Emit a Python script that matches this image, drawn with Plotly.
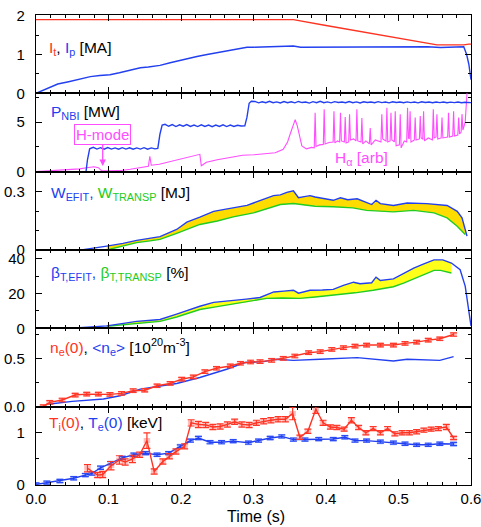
import plotly.graph_objects as go
from plotly.subplots import make_subplots

# ---------------- data ----------------
# Panel 1: currents [MA]
it_t = [0.000, 0.100, 0.200, 0.300, 0.355, 0.400, 0.450, 0.500, 0.553, 0.575, 0.590, 0.597, 0.600]
it_v = [1.90, 1.90, 1.90, 1.90, 1.90, 1.75, 1.59, 1.42, 1.25, 1.25, 1.25, 1.27, 1.27]
ip_t = [0.000, 0.010, 0.019, 0.030, 0.045, 0.061, 0.075, 0.088, 0.102, 0.115, 0.130, 0.144, 0.155, 0.171,
        0.185, 0.200, 0.208, 0.222, 0.236, 0.250, 0.262, 0.272, 0.283, 0.291, 0.300, 0.320, 0.340, 0.355,
        0.365, 0.380, 0.400, 0.420, 0.440, 0.460, 0.480, 0.500, 0.520, 0.540, 0.558, 0.575, 0.590, 0.594,
        0.597, 0.600]
ip_v = [0.00, 0.08, 0.17, 0.24, 0.30, 0.38, 0.43, 0.46, 0.48, 0.53, 0.60, 0.66, 0.68, 0.72,
        0.79, 0.86, 0.89, 0.95, 1.00, 1.05, 1.09, 1.11, 1.15, 1.19, 1.19, 1.20, 1.21, 1.22,
        1.19, 1.19, 1.20, 1.20, 1.19, 1.20, 1.20, 1.20, 1.20, 1.20, 1.18, 1.19, 1.20, 1.00,
        0.75, 0.35]

# Panel 2: NBI power [MW] and H-alpha [arb]
pnbi_t = [0.000, 0.069, 0.071, 0.074,
          0.079, 0.084, 0.089, 0.094, 0.099, 0.104, 0.109, 0.114, 0.119, 0.124,
          0.129, 0.134, 0.139, 0.144, 0.149, 0.154, 0.159, 0.164,
          0.168, 0.171, 0.174,
          0.178, 0.183, 0.188, 0.193, 0.198, 0.203, 0.208, 0.213, 0.218, 0.223, 0.228,
          0.233, 0.238, 0.243, 0.248, 0.253, 0.258, 0.263, 0.268, 0.273, 0.278, 0.283,
          0.288, 0.291, 0.294, 0.297,
          0.302, 0.307, 0.312, 0.317, 0.322, 0.327, 0.332, 0.337, 0.342, 0.347,
          0.352, 0.357, 0.362, 0.367, 0.372, 0.377, 0.382, 0.387, 0.392, 0.397,
          0.402, 0.407, 0.412, 0.417, 0.422, 0.427, 0.432, 0.437, 0.442, 0.447,
          0.452, 0.457, 0.462, 0.467, 0.472, 0.477, 0.482, 0.487, 0.492, 0.497,
          0.502, 0.507, 0.512, 0.517, 0.522, 0.527, 0.532, 0.537, 0.542, 0.547,
          0.552, 0.557, 0.562, 0.567, 0.572, 0.577, 0.582, 0.587, 0.592, 0.600]
pnbi_v = [0.00, 0.00, 1.20, 2.30,
          2.45, 2.28, 2.42, 2.26, 2.43, 2.28, 2.40, 2.27, 2.42, 2.28,
          2.41, 2.26, 2.40, 2.28, 2.42, 2.27, 2.40, 2.30,
          2.35, 3.80, 4.70,
          4.78, 4.58, 4.75, 4.55, 4.72, 4.58, 4.75, 4.56, 4.70, 4.55, 4.72,
          4.56, 4.70, 4.54, 4.70, 4.56, 4.72, 4.55, 4.70, 4.56, 4.68, 4.60,
          4.62, 5.50, 6.90, 7.10,
          7.08, 6.94, 7.05, 6.95, 7.10, 6.96, 7.04, 6.93, 7.07, 6.96,
          7.05, 6.94, 7.08, 6.97, 7.03, 6.92, 7.06, 6.95, 7.09, 6.96,
          7.04, 6.94, 7.06, 6.97, 7.02, 6.95, 7.07, 6.96, 7.04, 6.93,
          7.05, 6.97, 7.03, 6.95, 7.06, 6.96, 7.02, 6.94, 7.05, 6.97,
          7.03, 6.95, 7.04, 6.96, 7.02, 6.94, 7.05, 6.97, 7.03, 6.95,
          7.02, 6.96, 7.03, 6.95, 7.01, 6.96, 7.02, 6.95, 7.00, 6.96]
ha_t = [0.000, 0.020, 0.040, 0.060, 0.070, 0.080, 0.086, 0.090, 0.100, 0.115,
        0.130, 0.140, 0.150, 0.155, 0.157, 0.159, 0.170, 0.185, 0.199, 0.212,
        0.226, 0.228, 0.235, 0.250, 0.268, 0.285, 0.300, 0.314, 0.330, 0.341,
        0.347, 0.3506, 0.3575, 0.3605, 0.3667, 0.373, 0.380, 0.3838, 0.385, 0.3862,
        0.391, 0.3963, 0.3975, 0.3987, 0.404, 0.4098, 0.411, 0.4122, 0.416, 0.4188,
        0.420, 0.4212, 0.4253, 0.4265, 0.4277, 0.4313, 0.4325, 0.4337, 0.438, 0.4414,
        0.4426, 0.4438, 0.4483, 0.4495, 0.4507, 0.455, 0.4598, 0.461, 0.4622, 0.468,
        0.4758, 0.477, 0.4782, 0.4828, 0.484, 0.4852, 0.4884, 0.4896, 0.4908, 0.4943,
        0.4955, 0.4967, 0.5012, 0.5024, 0.5036, 0.508, 0.5113, 0.5125, 0.5137, 0.5148,
        0.516, 0.5172, 0.5218, 0.523, 0.5242, 0.5288, 0.530, 0.5312, 0.5334, 0.5346,
        0.5358, 0.541, 0.5468, 0.548, 0.5492, 0.5518, 0.553, 0.5542, 0.5588, 0.560,
        0.5612, 0.5678, 0.569, 0.5702, 0.5748, 0.576, 0.5772, 0.5818, 0.583, 0.5842,
        0.5864, 0.5876, 0.5888, 0.592, 0.595]
ha_v = [0.00, 0.08, 0.15, 0.28, 0.40, 0.50, 0.40, 0.12, 0.08, 0.10,
        0.25, 0.35, 0.50, 0.55, 1.55, 0.65, 0.75, 1.00, 1.25, 1.45,
        1.75, 0.60, 0.95, 1.20, 1.45, 1.65, 1.70, 1.80, 1.90, 2.25,
        3.00, 3.80, 5.25, 4.60, 2.60, 2.30, 2.45, 2.40, 5.95, 2.55,
        2.70, 2.75, 6.30, 2.80, 2.95, 3.00, 6.10, 2.90, 3.10, 3.00,
        5.95, 3.10, 3.00, 5.50, 2.90, 3.00, 5.80, 3.20, 3.30, 3.10,
        6.30, 3.10, 3.00, 5.40, 2.80, 3.10, 2.80, 4.40, 2.70, 3.20,
        3.00, 5.80, 3.30, 3.10, 6.45, 3.00, 3.10, 5.95, 3.20, 3.00,
        6.10, 2.60, 2.70, 5.80, 2.40, 3.10, 3.00, 6.45, 3.40, 3.30,
        6.10, 3.00, 3.20, 5.45, 3.20, 3.30, 5.60, 3.40, 3.30, 6.10,
        3.10, 3.40, 3.20, 6.30, 3.40, 3.50, 5.80, 3.30, 3.40, 5.45,
        3.40, 3.50, 5.95, 3.50, 3.60, 6.10, 3.60, 3.70, 5.45, 3.80,
        4.00, 5.80, 4.20, 5.00, 8.50]

# Panel 3: stored energy [MJ]
wefit_t = [0.0285, 0.065, 0.0976, 0.120, 0.139, 0.155, 0.171, 0.194, 0.208, 0.226, 0.245, 0.260, 0.272,
           0.291, 0.300, 0.315, 0.3276, 0.337, 0.346, 0.355, 0.362, 0.370, 0.378, 0.385, 0.392, 0.400,
           0.410, 0.420, 0.430, 0.443, 0.456, 0.463, 0.469, 0.475, 0.493, 0.512, 0.539, 0.567, 0.581,
           0.5876, 0.5945]
wefit_v = [0.000, 0.002, 0.020, 0.034, 0.050, 0.060, 0.069, 0.106, 0.144, 0.170, 0.200, 0.210, 0.218,
           0.231, 0.243, 0.262, 0.281, 0.285, 0.298, 0.306, 0.270, 0.276, 0.281, 0.274, 0.270, 0.262,
           0.257, 0.270, 0.260, 0.265, 0.243, 0.235, 0.257, 0.240, 0.230, 0.243, 0.240, 0.230, 0.200,
           0.166, 0.072]
wtr_t = [0.0976, 0.120, 0.139, 0.155, 0.171, 0.194, 0.210, 0.226, 0.250, 0.272, 0.300, 0.320, 0.337,
         0.355, 0.370, 0.385, 0.410, 0.437, 0.456, 0.475, 0.493, 0.521, 0.549, 0.567, 0.581, 0.592]
wtr_v = [0.000, 0.022, 0.038, 0.046, 0.055, 0.086, 0.110, 0.132, 0.150, 0.171, 0.192, 0.215, 0.235,
         0.240, 0.232, 0.226, 0.224, 0.218, 0.205, 0.200, 0.197, 0.205, 0.192, 0.166, 0.123, 0.080]

# Panel 4: toroidal beta [%]
bef_t = [0.031, 0.060, 0.0976, 0.120, 0.139, 0.155, 0.171, 0.194, 0.210, 0.226, 0.245, 0.272, 0.290,
         0.309, 0.328, 0.342, 0.355, 0.362, 0.378, 0.395, 0.410, 0.424, 0.438, 0.447, 0.463, 0.469,
         0.475, 0.493, 0.507, 0.521, 0.535, 0.549, 0.561, 0.573, 0.585, 0.592, 0.600]
bef_v = [0.0, 0.3, 1.4, 2.8, 4.0, 4.5, 5.1, 8.2, 10.5, 12.7, 14.9, 15.8, 16.8,
         17.7, 20.9, 21.4, 21.9, 20.2, 21.9, 22.0, 22.4, 24.7, 26.5, 25.6, 26.2, 29.4,
         27.5, 28.4, 31.5, 34.6, 37.0, 39.3, 39.3, 37.5, 33.7, 24.3, 1.4]
btr_t = [0.0976, 0.120, 0.139, 0.155, 0.171, 0.194, 0.210, 0.226, 0.250, 0.272, 0.295, 0.318, 0.340,
         0.364, 0.385, 0.410, 0.440, 0.465, 0.493, 0.507, 0.521, 0.535, 0.549, 0.558, 0.573]
btr_v = [1.2, 2.0, 2.7, 3.3, 4.0, 6.5, 8.8, 10.8, 12.5, 14.0, 15.2, 17.2, 17.4,
         17.2, 18.0, 19.0, 20.4, 21.9, 23.9, 26.0, 28.4, 30.8, 33.3, 33.3, 31.8]

# Panel 5: density [1e20 m^-3]
ne0_t = [0.010, 0.019, 0.036, 0.054, 0.070, 0.086, 0.102, 0.118, 0.134, 0.150, 0.167, 0.185,
         0.201, 0.217, 0.233, 0.249, 0.268, 0.282, 0.296, 0.309, 0.325, 0.341, 0.357, 0.376,
         0.392, 0.408, 0.424, 0.440, 0.456, 0.475, 0.493, 0.509, 0.525, 0.541, 0.557, 0.576]
ne0_v = [0.000, 0.045, 0.069, 0.120, 0.130, 0.130, 0.127, 0.137, 0.165, 0.170, 0.216, 0.240,
         0.284, 0.308, 0.363, 0.397, 0.421, 0.449, 0.462, 0.466, 0.479, 0.500, 0.524, 0.558,
         0.569, 0.592, 0.610, 0.626, 0.637, 0.637, 0.637, 0.654, 0.667, 0.688, 0.702, 0.746]
nea_t = [0.019, 0.050, 0.093, 0.116, 0.144, 0.166, 0.194, 0.226, 0.263, 0.288, 0.314, 0.332,
         0.355, 0.392, 0.443, 0.493, 0.512, 0.557, 0.576]
nea_v = [0.028, 0.055, 0.079, 0.113, 0.182, 0.205, 0.240, 0.302, 0.387, 0.456, 0.466, 0.490,
         0.479, 0.490, 0.507, 0.472, 0.490, 0.479, 0.517]

# Panel 6: temperatures [keV]
te_t = [0.000, 0.015, 0.033, 0.052, 0.068, 0.077, 0.089, 0.103, 0.119, 0.135, 0.151, 0.167,
        0.183, 0.199, 0.213, 0.224, 0.240, 0.256, 0.272, 0.293, 0.307, 0.323, 0.339, 0.355,
        0.371, 0.390, 0.410, 0.426, 0.440, 0.456, 0.475, 0.493, 0.509, 0.525, 0.541, 0.557, 0.576]
te_v = [0.01, 0.045, 0.077, 0.13, 0.19, 0.22, 0.33, 0.42, 0.52, 0.58, 0.61, 0.58,
        0.61, 0.74, 0.85, 0.90, 0.82, 0.82, 0.84, 0.81, 0.85, 0.90, 0.93, 0.87,
        0.87, 0.88, 0.88, 0.915, 0.85, 0.85, 0.83, 0.81, 0.79, 0.77, 0.77, 0.79, 0.785]
ti_t = [0.071, 0.085, 0.092, 0.1035, 0.115, 0.123, 0.133, 0.143, 0.153, 0.163,
        0.175, 0.184, 0.193, 0.205, 0.214, 0.224, 0.234, 0.244, 0.254, 0.264,
        0.274, 0.284, 0.294, 0.304, 0.314, 0.324, 0.334, 0.344, 0.354, 0.364,
        0.375, 0.386, 0.396, 0.406, 0.415, 0.425, 0.435, 0.445, 0.455, 0.465,
        0.475, 0.485, 0.495, 0.505, 0.515, 0.525, 0.535, 0.545, 0.555, 0.566,
        0.576]
ti_v = [0.32, 0.19, 0.20, 0.37, 0.48, 0.44, 0.50, 0.58, 0.85, 0.26,
        0.45, 0.55, 0.64, 0.74, 1.19, 1.16, 1.15, 1.11, 1.12, 1.16,
        1.21, 1.16, 1.15, 1.19, 1.22, 1.24, 1.26, 1.26, 1.37, 0.915,
        1.03, 1.45, 1.19, 1.11, 1.10, 1.07, 1.24, 1.10, 1.00, 1.08,
        1.00, 1.08, 0.98, 1.00, 1.00, 1.02, 1.05, 1.07, 1.08, 1.11,
        0.90]
ti_err = [0.07, 0.05, 0.06, 0.08, 0.08, 0.06, 0.07, 0.05, 0.15, 0.05,
          0.05, 0.05, 0.05, 0.05, 0.06, 0.06, 0.05, 0.05, 0.05, 0.05,
          0.05, 0.05, 0.05, 0.05, 0.05, 0.05, 0.05, 0.05, 0.12, 0.04,
          0.04, 0.08, 0.05, 0.04, 0.04, 0.04, 0.05, 0.04, 0.04, 0.04,
          0.04, 0.04, 0.04, 0.04, 0.04, 0.04, 0.04, 0.04, 0.04, 0.05,
          0.03]

# ---------------- style ----------------
RED = "#ff3322"
BLUE = "#2340f0"
GREEN = "#22cc22"
MAG = "#ff4dff"
FONT = "Liberation Sans, Arial, Helvetica, sans-serif"
LW = 1.4

fig = make_subplots(rows=6, cols=1, shared_xaxes=True, vertical_spacing=0)


def line(x, y, color, row, width=LW, **kw):
    fig.add_trace(go.Scatter(x=x, y=y, mode="lines", line=dict(color=color, width=width),
                             showlegend=False, hoverinfo="skip", **kw), row=row, col=1)


def band(tu, vu, tl, vl, color, row):
    lo, hi = tl[0], tl[-1] + 0.003
    px = [t for t in tu if lo <= t <= hi]
    py = [v for t, v in zip(tu, vu) if lo <= t <= hi]
    fig.add_trace(go.Scatter(x=px + tl[::-1], y=py + vl[::-1], mode="lines", fill="toself",
                             fillcolor=color, line=dict(width=0), showlegend=False,
                             hoverinfo="skip"), row=row, col=1)


# Panel 1
line(it_t, it_v, RED, 1)
line(ip_t, ip_v, BLUE, 1)
# Panel 2
line(ha_t, ha_v, MAG, 2, width=1.1)
line(pnbi_t, pnbi_v, BLUE, 2)
# Panel 3
band(wefit_t, wefit_v, wtr_t, wtr_v, "#ffdc00", 3)
line(wtr_t, wtr_v, GREEN, 3)
line(wefit_t, wefit_v, BLUE, 3)
# Panel 4
band(bef_t, bef_v, btr_t, btr_v, "#ffff1a", 4)
line(btr_t, btr_v, GREEN, 4)
line(bef_t, bef_v, BLUE, 4)
# Panel 5
line(nea_t, nea_v, BLUE, 5)
line(ne0_t, ne0_v, RED, 5,
     error_y=dict(type="constant", value=0.018, color=RED, thickness=1.2, width=3.5),
     error_x=dict(type="constant", value=0.0045, color="rgba(255,70,60,0.35)", thickness=5, width=0))
# Panel 6
line(te_t, te_v, BLUE, 6,
     error_y=dict(type="constant", value=0.03, color=BLUE, thickness=1.2, width=3.5),
     error_x=dict(type="constant", value=0.0045, color="rgba(60,100,255,0.35)", thickness=5, width=0))
line(ti_t, ti_v, RED, 6,
     error_y=dict(type="data", array=ti_err, color=RED, thickness=1.2, width=3.5),
     error_x=dict(type="constant", value=0.0045, color="rgba(255,70,60,0.35)", thickness=5, width=0))

# ---------------- axes ----------------
axis_common = dict(showline=True, linecolor="black", linewidth=1.3, mirror="allticks",
                   ticks="inside", ticklen=6, tickwidth=1.2, tickcolor="black",
                   showgrid=False, zeroline=False, automargin=False,
                   tickfont=dict(family=FONT, size=15, color="black"))

yspecs = [
    dict(range=[0, 2.02], dtick=1, minor_dtick=0.5, fmt=""),
    dict(range=[0, 7.9], dtick=5, minor_dtick=2.5, fmt=""),
    dict(range=[0, 0.405], dtick=0.3, minor_dtick=0.1, fmt=""),
    dict(range=[0, 45.0], dtick=20, minor_dtick=10, fmt=""),
    dict(range=[0, 0.81], dtick=0.5, minor_dtick=0.25, fmt=".1f"),
    dict(range=[0, 1.5], dtick=1, minor_dtick=0.5, fmt=""),
]
for i, s in enumerate(yspecs, start=1):
    fig.update_yaxes(row=i, col=1, range=s["range"], tickmode="linear", tick0=0, dtick=s["dtick"],
                     tickformat=s["fmt"], ticklabelstandoff=7,
                     minor=dict(tick0=0, dtick=s["minor_dtick"], ticks="inside", ticklen=3,
                                tickwidth=1, tickcolor="black"),
                     **axis_common)
    fig.update_xaxes(row=i, col=1, range=[0, 0.6], tickmode="linear", tick0=0, dtick=0.1,
                     tickformat=".1f", ticklabeloverflow="allow",
                     minor=dict(tick0=0, dtick=0.02, ticks="inside", ticklen=3,
                                tickwidth=1, tickcolor="black"),
                     **axis_common)
fig.update_xaxes(row=6, col=1, ticklabelstandoff=0)

# ---------------- labels ----------------
W, H = 481, 527
ML, MR, MT, MB = 36, 10, 15, 42
PW, PH = W - ML - MR, H - MT - MB


def px2paper(x, y):
    return (x - ML) / PW, (H - MB - y) / PH


def sp(text, color):
    return f'<span style="color:{color}">{text}</span>'


labels = [
    (47, 48, sp("I<sub>t</sub>", RED) + ", " + sp("I<sub>p</sub>", BLUE) + " [MA]"),
    (49, 113, sp("P<sub>NBI</sub>", BLUE) + " [MW]"),
    (49, 193, sp("W<sub>EFIT</sub>,", BLUE) + " " + sp("W<sub>TRANSP</sub>", GREEN) + " [MJ]"),
    (49, 273, sp("β<sub>T,EFIT</sub>,", BLUE) + " " + sp("β<sub>T,TRANSP</sub>", GREEN) + " [%]"),
    (48, 347, sp("n<sub>e</sub>(0)", RED) + ", " + sp("&lt;n<sub>e</sub>&gt;", BLUE)
     + " [10<sup>20</sup>m<sup>-3</sup>]"),
    (47, 423, sp("T<sub>i</sub>(0)", RED) + ", " + sp("T<sub>e</sub>(0)", BLUE) + " [keV]"),
    (333, 158, sp("H<sub>α</sub> [arb]", MAG)),
]
for x, y, txt in labels:
    xp, yp = px2paper(x, y)
    fig.add_annotation(x=xp, y=yp, xref="paper", yref="paper", text=txt, showarrow=False,
                       xanchor="left", yanchor="middle",
                       font=dict(family=FONT, size=15.5, color="black"))

# x-axis title
tx, ty = px2paper(256, 516)
fig.add_annotation(x=tx, y=ty, xref="paper", yref="paper", text="Time (s)", showarrow=False,
                   xanchor="center", yanchor="middle",
                   font=dict(family=FONT, size=16, color="black"))

fig.add_annotation(x=0.092, y=0.56, xref="x2", yref="y2", text="H-mode", showarrow=True,
                   ax=0, ay=-32, arrowhead=2, arrowsize=1, arrowwidth=1.3, arrowcolor=MAG,
                   bordercolor=MAG, borderwidth=1, borderpad=1,
                   font=dict(family=FONT, size=15, color=MAG))

fig.update_layout(width=W, height=H, margin=dict(l=ML, r=MR, t=MT, b=MB, autoexpand=False),
                  plot_bgcolor="white", paper_bgcolor="white", showlegend=False,
                  font=dict(family=FONT, color="black"))

fig.write_html("out.html")
